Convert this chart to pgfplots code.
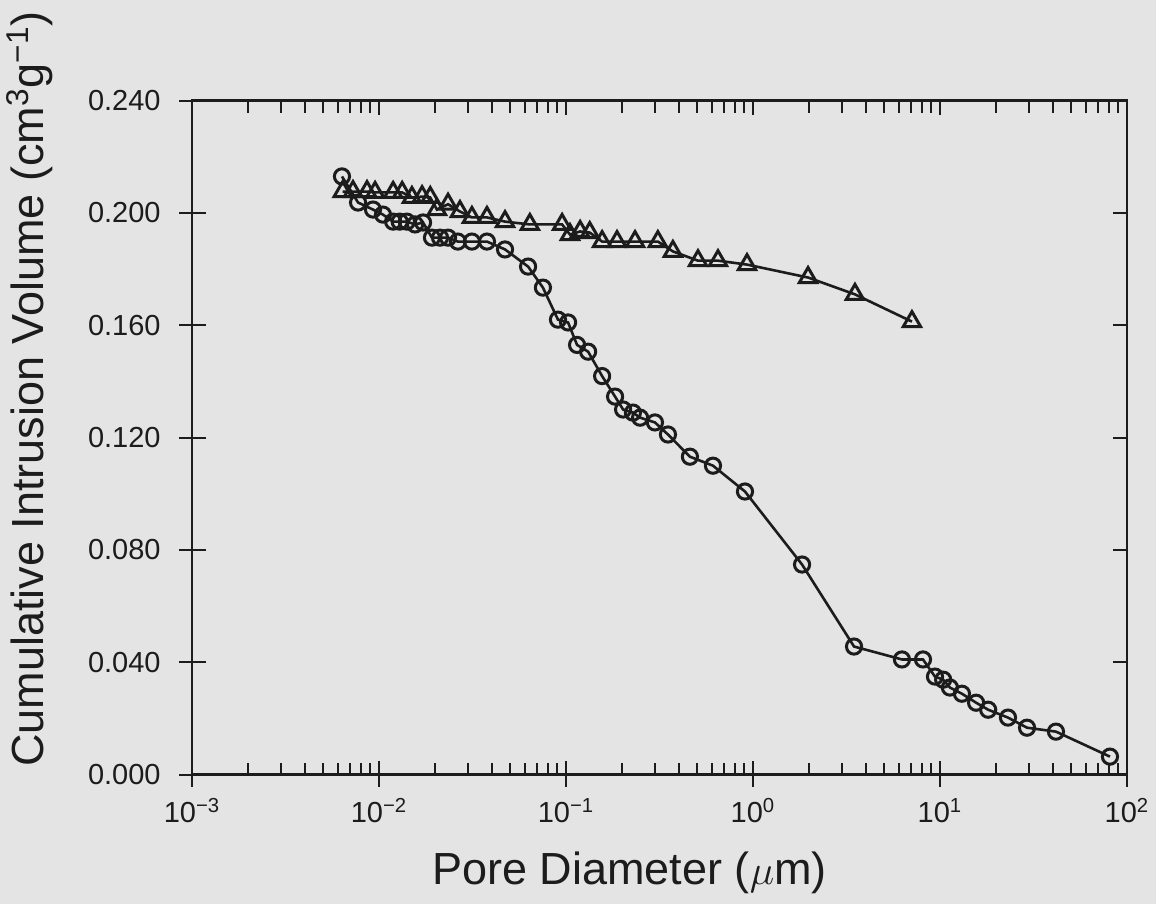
\documentclass[border=0pt]{standalone}
\usepackage{pgfplots}
\pgfplotsset{compat=1.18}
\usepackage{pgfplotstable}
\usepackage{fontspec}
\setmainfont{Liberation Sans}
\usetikzlibrary{backgrounds}
\definecolor{bg}{HTML}{E4E4E4}
\definecolor{ink}{HTML}{1C1C1C}

\pgfplotstableread{
x y
0.00634 0.2130
0.00773 0.2037
0.00929 0.2012
0.0105 0.1994
0.0119 0.1969
0.0129 0.1969
0.0141 0.1969
0.0156 0.1959
0.0172 0.1966
0.0192 0.1912
0.0212 0.1912
0.0234 0.1912
0.0264 0.1898
0.0314 0.1898
0.0378 0.1898
0.0472 0.1870
0.0627 0.1809
0.0753 0.1734
0.0906 0.1620
0.1026 0.1610
0.1146 0.1530
0.1313 0.1506
0.156 0.1419
0.183 0.1346
0.202 0.1300
0.228 0.1289
0.249 0.1271
0.299 0.1254
0.351 0.1211
0.460 0.1132
0.611 0.1100
0.906 0.1008
1.83 0.0748
3.47 0.0456
6.26 0.0410
8.11 0.0410
9.40 0.0349
10.4 0.0338
11.3 0.0310
13.1 0.0288
15.6 0.0256
18.1 0.0231
23.1 0.0203
29.2 0.0167
41.7 0.0153
81.1 0.0064
}\circdata

\pgfplotstableread{
x y
0.00640 0.2076
0.00726 0.2076
0.00863 0.2076
0.00953 0.2073
0.0119 0.2073
0.0133 0.2073
0.0150 0.2055
0.0170 0.2058
0.0188 0.2055
0.0204 0.2012
0.0234 0.2031
0.0271 0.2005
0.0314 0.1984
0.0378 0.1984
0.0472 0.1969
0.0641 0.1959
0.0953 0.1959
0.105 0.1923
0.119 0.1934
0.134 0.1930
0.156 0.1898
0.1875 0.1898
0.234 0.1898
0.310 0.1898
0.373 0.1863
0.508 0.1830
0.650 0.1830
0.929 0.1816
1.97 0.1770
3.51 0.1710
7.08 0.1613
}\tridata

\begin{document}
\begin{tikzpicture}
\begin{axis}[
  xmode=log,
  scale only axis,
  width=467.5pt, height=337pt,
  xmin=1e-3, xmax=1e2, ymin=0, ymax=0.24,
  xtick={1e-3,1e-2,1e-1,1,10,100},
  xticklabels={10\textsuperscript{−3},10\textsuperscript{−2},10\textsuperscript{−1},10\textsuperscript{0},10\textsuperscript{1},10\textsuperscript{2}},
  ytick={0,0.04,0.08,0.12,0.16,0.2,0.24},
  yticklabels={0.000,0.040,0.080,0.120,0.160,0.200,0.240},
  tick align=inside,
  major tick length=7pt,
  minor tick length=6pt,
  axis line style={line width=1.4pt, ink},
  every tick/.style={ink, line width=1pt},
  tick label style={font=\fontsize{14.5}{17}\selectfont, text=ink, inner sep=0pt},
  xticklabel style={anchor=base, yshift=-24pt},
  yticklabel style={anchor=east, xshift=-15.5pt},
  extra x ticks={1e-3,1e-2,1e-1,1,10,100},
  extra x tick labels={},
  extra x tick style={tick align=outside, major tick length=6pt, tick pos=left},
  extra y ticks={0,0.04,0.08,0.12,0.16,0.2,0.24},
  extra y tick labels={},
  extra y tick style={tick align=outside, major tick length=6.5pt, tick pos=left},
  xlabel={Pore Diameter ($\mu$m)},
  ylabel={Cumulative Intrusion Volume (cm\textsuperscript{3}g\textsuperscript{−1})},
  label style={font=\fontsize{22.5}{26}\selectfont, text=ink},
  xlabel style={at={(axis description cs:0.468,0)}, anchor=base, yshift=-55pt},
  ylabel style={at={(axis description cs:-0.1733,0.572)}, anchor=center},
  clip=false,
]
\addplot[ink, line width=1.3pt, mark=o, mark size=3.8pt, mark options={line width=1.5pt, fill=none}] table[x=x,y=y] {\circdata};
\addplot[ink, line width=1.3pt, mark=triangle, mark size=5pt, mark options={line width=1.5pt, fill=none}] table[x=x,y=y] {\tridata};
\coordinate (SW) at (rel axis cs:0,0);
\coordinate (NE) at (rel axis cs:1,1);
\end{axis}
\pgfresetboundingbox
\path[use as bounding box] ([shift={(-96pt,-64.5pt)}]SW) rectangle ([shift={(14.5pt,50.3pt)}]NE);
\begin{scope}[on background layer]
\fill[bg] ([shift={(-96pt,-64.5pt)}]SW) rectangle ([shift={(14.5pt,50.3pt)}]NE);
\end{scope}
\end{tikzpicture}
\end{document}
